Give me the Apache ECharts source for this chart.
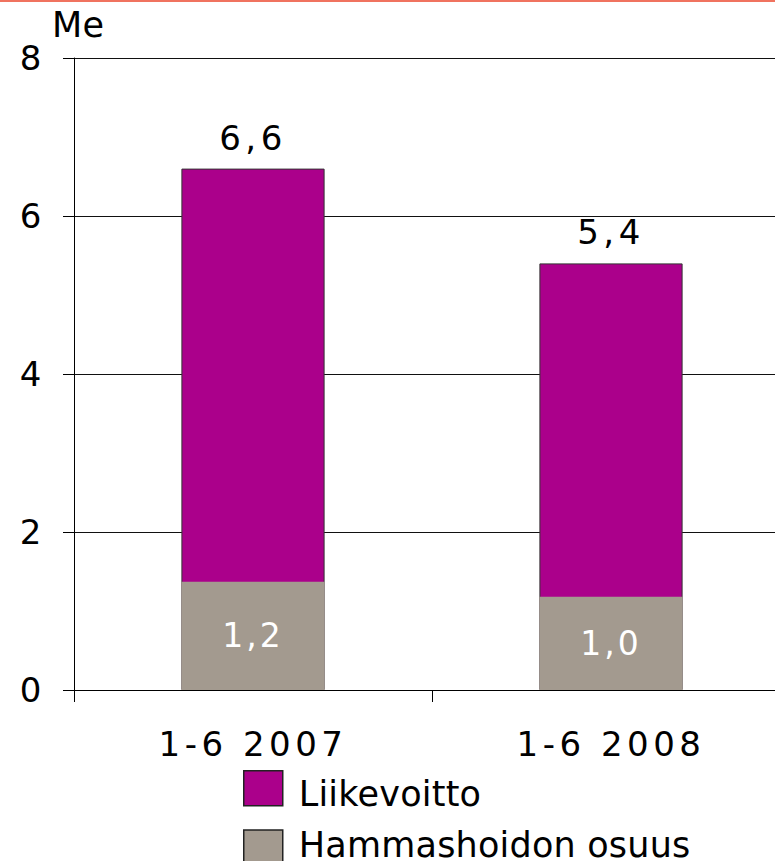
<!DOCTYPE html>
<html>
<head>
<meta charset="utf-8">
<script src="https://cdn.jsdelivr.net/npm/echarts@6/dist/echarts.min.js"></script>
<style>
html,body{margin:0;padding:0;background:#fff;}
#chart{width:775px;height:861px;}
#chart text{letter-spacing:3px;}
#chart text[style*="34px"]{letter-spacing:4.5px;}
#chart text[style*="35px"]{letter-spacing:0.2px;}
</style>
</head>
<body>
<div id="chart"></div>
<script>
const categories = ['1-6 2007', '1-6 2008'];
const seriesNames = ['Liikevoitto', 'Hammashoidon osuus'];
const liikevoitto = [6.6, 5.4];
const hammashoito = [1.37, 1.18];
const hammashoitoLabels = ['1,2', '1,0'];
const yTicks = [0, 2, 4, 6, 8];

const FONT = 'DejaVu Sans';
const chart = echarts.init(document.getElementById('chart'), null, {renderer: 'svg'});
const legendBase = {
  orient: 'vertical', left: 238, itemWidth: 39, itemHeight: 35, icon: 'rect',
  itemStyle: {borderColor: '#222', borderWidth: 1.5},
  formatter: '{t|{name}}'
};
chart.setOption({
  animation: false,
  textStyle: {fontFamily: FONT},
  graphic: [{type: 'rect', left: 0, top: 0, shape: {width: 775, height: 2}, style: {fill: '#f0735f'}}],
  grid: {left: 74, top: 58, width: 716, height: 632, containLabel: false, outerBoundsMode: 'none'},
  legend: [
    Object.assign({}, legendBase, {top: 765, data: [seriesNames[0]],
      textStyle: {fontFamily: FONT, fontSize: 35, color: '#000',
        rich: {t: {fontFamily: FONT, fontSize: 35, color: '#000', padding: [11, 0, 0, 11]}}}}),
    Object.assign({}, legendBase, {top: 822, data: [seriesNames[1]],
      textStyle: {fontFamily: FONT, fontSize: 35, color: '#000',
        rich: {t: {fontFamily: FONT, fontSize: 35, lineHeight: 28, color: '#000', padding: [0, 0, 6, 11]}}}})
  ],
  xAxis: {
    type: 'category', data: categories, boundaryGap: true,
    axisLine: {lineStyle: {color: '#000', width: 1}},
    axisTick: {show: true, length: 12, alignWithLabel: false, lineStyle: {color: '#000'}},
    axisLabel: {fontFamily: FONT, fontSize: 34, color: '#000', margin: 37}
  },
  yAxis: {
    type: 'value', min: yTicks[0], max: yTicks[yTicks.length - 1], interval: 2,
    name: 'Me', nameLocation: 'end', nameGap: 16,
    nameTextStyle: {fontFamily: FONT, fontSize: 35, color: '#000', align: 'left', padding: [0, 0, 0, -22]},
    axisLine: {show: true, lineStyle: {color: '#000', width: 1}},
    axisTick: {show: true, length: 11, lineStyle: {color: '#000'}},
    splitLine: {show: true, lineStyle: {color: '#111', width: 1}},
    axisLabel: {fontFamily: FONT, fontSize: 34, color: '#000', margin: 28}
  },
  series: [
    {
      name: seriesNames[0], type: 'bar', data: liikevoitto, barWidth: '40%', barGap: '-100%',
      itemStyle: {color: '#ab008b', borderColor: '#333', borderWidth: 1},
      label: {show: true, position: 'top', distance: 14, fontFamily: FONT, fontSize: 34, color: '#000',
        formatter: p => p.value.toFixed(1).replace('.', ',')}
    },
    {
      name: seriesNames[1], type: 'bar', data: hammashoito, barWidth: '40%', barGap: '-100%',
      itemStyle: {color: '#a39a8f'},
      label: {show: true, position: 'inside', fontFamily: FONT, fontSize: 33, color: '#fff',
        formatter: p => hammashoitoLabels[p.dataIndex]}
    }
  ]
});
</script>
</body>
</html>
